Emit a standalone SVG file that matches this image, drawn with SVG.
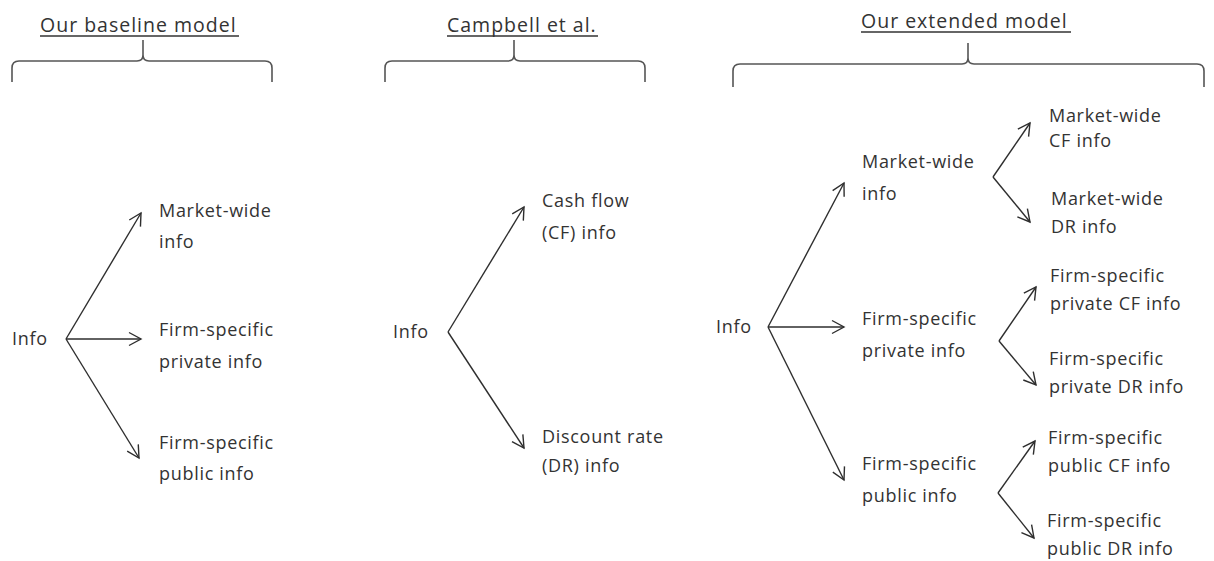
<svg xmlns="http://www.w3.org/2000/svg" width="1214" height="561" viewBox="0 0 1214 561">
<defs>
<style>
.t{font-family:"Open Sans","Liberation Sans",sans-serif;font-size:18px;letter-spacing:0.7px;fill:#333}
.h{font-family:"Open Sans","Liberation Sans",sans-serif;font-size:19.5px;letter-spacing:1px;fill:#333}
.ul{stroke:#333;stroke-width:1.5}
.br{fill:none;stroke:#555;stroke-width:1.6}
.c{fill:none;stroke:#2e2e2e;stroke-width:1.4;marker-end:url(#ah)}
</style>
<marker id="ah" viewBox="-14 -8 16 16" refX="0" refY="0" markerWidth="16" markerHeight="16" markerUnits="userSpaceOnUse" orient="auto">
<path d="M-12,-6.5 L0,0 L-12,6.5" fill="none" stroke="#2e2e2e" stroke-width="1.4"/>
</marker>
</defs>
<rect width="1214" height="561" fill="#fff"/>

<g id="headers">
<g id="title-baseline"><text class="h" x="40" y="32">Our baseline model</text><line class="ul" x1="40" y1="36" x2="239" y2="36"/></g>
<g id="title-campbell"><text class="h" x="447" y="32">Campbell et al.</text><line class="ul" x1="447" y1="36" x2="598" y2="36"/></g>
<g id="title-extended"><text class="h" x="861" y="28">Our extended model</text><line class="ul" x1="861" y1="32" x2="1071" y2="32"/></g>
<path class="br" d="M12,82 L12,68 Q12,61 19,61 L137,61 Q143,61 143,55 L143,40 M143,55 Q143,61 149,61 L265,61 Q272,61 272,68 L272,82"/>
<path class="br" d="M385,82 L385,68 Q385,61 392,61 L508,61 Q514,61 514,55 L514,40 M514,55 Q514,61 520,61 L638,61 Q645,61 645,68 L645,82"/>
<path class="br" d="M733,87 L733,71 Q733,64 740,64 L962,64 Q968,64 968,58 L968,43 M968,58 Q968,64 974,64 L1197,64 Q1204,64 1204,71 L1204,87"/>
</g>

<g id="connectors">
<path class="c" d="M66,339 L141,213"/>
<path class="c" d="M66,339 L141,339"/>
<path class="c" d="M66,339 L139,458"/>
<path class="c" d="M448,332 L524,207"/>
<path class="c" d="M448,332 L524,448"/>
<path class="c" d="M768,327 L844,183"/>
<path class="c" d="M768,327 L844,327"/>
<path class="c" d="M768,327 L844,480"/>
<path class="c" d="M993,177 L1030,123"/>
<path class="c" d="M993,177 L1030,222"/>
<path class="c" d="M999,341 L1036,287"/>
<path class="c" d="M999,341 L1036,385"/>
<path class="c" d="M998,493 L1035,441"/>
<path class="c" d="M998,493 L1034,538"/>
</g>

<g id="b-info"><text class="t" x="12" y="345">Info</text></g>
<g id="b-market"><text class="t" x="159" y="217">Market-wide</text><text class="t" x="159" y="248">info</text></g>
<g id="b-private"><text class="t" x="159" y="336">Firm-specific</text><text class="t" x="159" y="368">private info</text></g>
<g id="b-public"><text class="t" x="159" y="449">Firm-specific</text><text class="t" x="159" y="480">public info</text></g>

<g id="c-info"><text class="t" x="393" y="338">Info</text></g>
<g id="c-cf"><text class="t" x="542" y="207">Cash flow</text><text class="t" x="542" y="239">(CF) info</text></g>
<g id="c-dr"><text class="t" x="542" y="443">Discount rate</text><text class="t" x="542" y="472">(DR) info</text></g>

<g id="e-info"><text class="t" x="716" y="333">Info</text></g>
<g id="e-market"><text class="t" x="862" y="168">Market-wide</text><text class="t" x="862" y="200">info</text></g>
<g id="e-private"><text class="t" x="862" y="325">Firm-specific</text><text class="t" x="862" y="357">private info</text></g>
<g id="e-public"><text class="t" x="862" y="470">Firm-specific</text><text class="t" x="862" y="502">public info</text></g>

<g id="e-market-cf"><text class="t" x="1049" y="122">Market-wide</text><text class="t" x="1049" y="147">CF info</text></g>
<g id="e-market-dr"><text class="t" x="1051" y="205">Market-wide</text><text class="t" x="1051" y="233">DR info</text></g>
<g id="e-private-cf"><text class="t" x="1050" y="282">Firm-specific</text><text class="t" x="1050" y="310">private CF info</text></g>
<g id="e-private-dr"><text class="t" x="1049" y="365">Firm-specific</text><text class="t" x="1049" y="393">private DR info</text></g>
<g id="e-public-cf"><text class="t" x="1048" y="444">Firm-specific</text><text class="t" x="1048" y="472">public CF info</text></g>
<g id="e-public-dr"><text class="t" x="1047" y="527">Firm-specific</text><text class="t" x="1047" y="555">public DR info</text></g>
</svg>
